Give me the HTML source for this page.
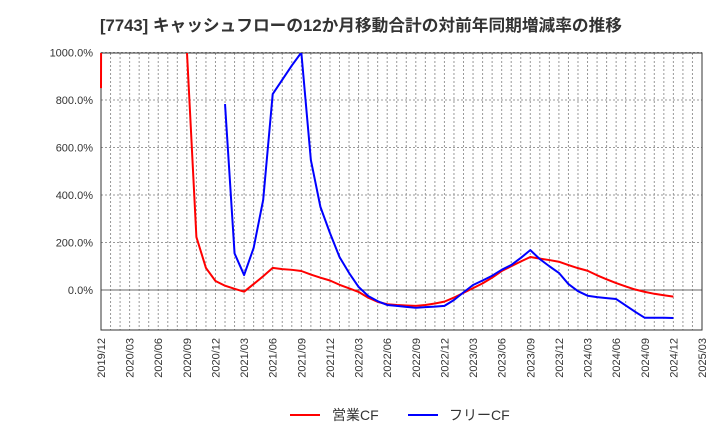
<!DOCTYPE html>
<html><head><meta charset="utf-8"><style>
body{margin:0;background:#fff;font-family:"Liberation Sans","Noto Sans CJK JP",sans-serif;}
</style></head><body>
<svg id="c" width="720" height="440" xmlns="http://www.w3.org/2000/svg" font-family="Liberation Sans, Noto Sans CJK JP, sans-serif">
<text x="100" y="31" font-size="16.7" font-weight="bold" fill="#333">[7743]  キャッシュフローの12か月移動合計の対前年同期増減率の推移</text>
<defs><clipPath id="pc"><rect x="100" y="53" width="602" height="277"/></clipPath></defs>
<g id="grid"></g>
<g id="axes"></g>
<g id="series" clip-path="url(#pc)"></g>
<g>
<line x1="290" y1="415" x2="320" y2="415" stroke="#f00" stroke-width="2"/>
<text x="332" y="420" font-size="14" fill="#333">営業CF</text>
<line x1="408" y1="415" x2="438" y2="415" stroke="#00f" stroke-width="2"/>
<text x="449" y="420" font-size="14" fill="#333">フリーCF</text>
</g>
</svg>
<script>
const xLabels=["2019/12","2020/03","2020/06","2020/09","2020/12","2021/03","2021/06","2021/09","2021/12","2022/03","2022/06","2022/09","2022/12","2023/03","2023/06","2023/09","2023/12","2024/03","2024/06","2024/09","2024/12","2025/03"];
const yTicks=[0,200,400,600,800,1000];
const operatingCF=[850,20000,20000,20000,20000,20000,20000,20000,20000,1010,223,93,38,18,5,-7,25,58,93,88,85,80,65,52,40,22,7,-8,-32,-50,-60,-63,-65,-67,-63,-57,-49,-32,-12,8,28,52,80,100,120,139,132,126,119,105,92,81,62,45,29,15,2,-8,-16,-22,-28];
const freeCF=[null,null,null,null,null,null,null,null,null,null,null,null,null,783,154,63,177,379,825,885,945,1000,547,350,240,139,72,13,-25,-47,-63,-67,-71,-75,-72,-70,-67,-42,-10,21,40,60,85,105,135,168,130,100,72,25,-5,-24,-30,-34,-38,-65,-92,-117,-117,-117,-118];
const NS="http://www.w3.org/2000/svg";
const X0=101,X1=702,Y0=290,PX200=47.5,MONTHS=63;
const xs=i=>X0+(X1-X0)*i/MONTHS;
const ys=v=>Y0-v*PX200/200;
function mk(t,a,p){const e=document.createElementNS(NS,t);for(const k in a)e.setAttribute(k,a[k]);p.appendChild(e);return e;}
const grid=document.getElementById('grid'),axes=document.getElementById('axes'),ser=document.getElementById('series');
for(let m=1;m<MONTHS;m++){const l=mk('line',{x1:xs(m),x2:xs(m),y1:53,y2:330,stroke:'#999','stroke-dasharray':'2,2','stroke-width':1},grid);

}
yTicks.forEach(v=>{const y=ys(v);
const l=mk('line',{x1:X0,x2:X1,y1:y,y2:y,stroke:v===0?'#666':'#999','stroke-dasharray':v===0?'':'2,2','stroke-width':1},grid);


const t=mk('text',{x:93,y:y+4,'text-anchor':'end','font-size':11,fill:'#333'},axes);t.textContent=v.toFixed(1)+'%';

});
const fr=mk('rect',{x:X0,y:53,width:X1-X0,height:277,fill:'none',stroke:'#333','stroke-width':1},axes);


xLabels.forEach((s,i)=>{const x=xs(i*3);
const t=mk('text',{x:0,y:0,transform:`translate(${x+4},338) rotate(-90)`,'text-anchor':'end','font-size':11,fill:'#333'},axes);t.textContent=s;

});
function line(arr,color,name){let d='',pen=false;arr.forEach((v,i)=>{if(v===null){pen=false;return;}d+=(pen?'L':'M')+xs(i).toFixed(2)+','+ys(v).toFixed(2);pen=true;});
const p=mk('path',{d:d,fill:'none',stroke:color,'stroke-width':2,'stroke-linejoin':'round'},ser);

}
line(operatingCF,'#f00','operating-cf-line');
line(freeCF,'#00f','free-cf-line');
</script>
</body></html>
